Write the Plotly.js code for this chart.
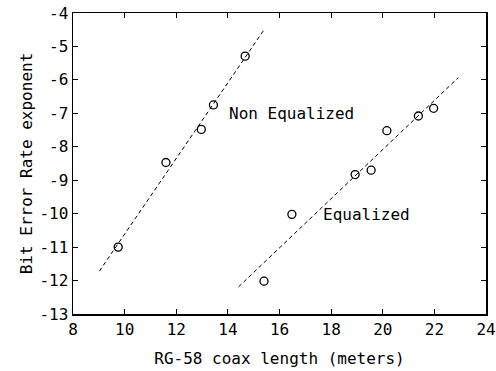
<!DOCTYPE html>
<html>
<head>
<meta charset="utf-8">
<script src="https://cdn.plot.ly/plotly-3.0.1.min.js"></script>
<style>html,body{margin:0;padding:0;background:#fff;}</style>
</head>
<body>
<div id="chart" style="width:496px;height:371px;"></div>
<script>
// Non equalized measurements
const nonEqX = [9.75, 11.6, 12.97, 13.44, 14.67];
const nonEqY = [-11.0, -8.47, -7.48, -6.75, -5.29];
// Non equalized fit line endpoints
const nonEqFitX = [9.02, 15.41];
const nonEqFitY = [-11.72, -4.49];
// Equalized measurements
const eqX = [15.4, 16.48, 18.93, 19.55, 20.16, 21.38, 21.97];
const eqY = [-12.02, -10.02, -8.83, -8.70, -7.52, -7.08, -6.85];
// Equalized fit line endpoints
const eqFitX = [14.41, 22.93];
const eqFitY = [-12.19, -5.93];

const xTicks = [8, 10, 12, 14, 16, 18, 20, 22, 24];
const yTicks = [-13, -12, -11, -10, -9, -8, -7, -6, -5, -4];
const labelNonEq = "Non Equalized";
const labelEq = "Equalized";

const font = "DejaVu Sans Mono, monospace";
const markerStyle = {symbol: 'circle-open', size: 8, color: '#000', line: {width: 1.3, color: '#000'}};
const lineStyle = {color: '#000', width: 1, dash: '4px,3px'};

const traces = [
  {x: nonEqFitX, y: nonEqFitY, mode: 'lines', line: lineStyle, hoverinfo: 'skip'},
  {x: eqFitX, y: eqFitY, mode: 'lines', line: lineStyle, hoverinfo: 'skip'},
  {x: nonEqX, y: nonEqY, mode: 'markers', marker: markerStyle},
  {x: eqX, y: eqY, mode: 'markers', marker: markerStyle}
];

const axisCommon = {
  showline: true, linecolor: '#000', linewidth: 1.5, mirror: 'ticks',
  ticks: 'inside', ticklen: 5, tickwidth: 1.2, tickcolor: '#000',
  showgrid: false, zeroline: false,
  tickfont: {family: font, size: 16, color: '#000'}
};

const layout = {
  width: 496, height: 371,
  margin: {l: 73, r: 10, t: 13, b: 57},
  paper_bgcolor: '#fff', plot_bgcolor: '#fff',
  showlegend: false,
  font: {family: font, size: 16, color: '#000'},
  xaxis: Object.assign({}, axisCommon, {
    range: [8, 24], tickmode: 'array', tickvals: xTicks, ticktext: xTicks.map(String),
    title: {text: 'RG-58 coax length (meters)', font: {family: font, size: 16, color: '#000'}, standoff: 15}
  }),
  yaxis: Object.assign({}, axisCommon, {
    range: [-13, -4], tickmode: 'array', tickvals: yTicks, ticktext: yTicks.map(String),
    title: {text: 'Bit Error Rate exponent', font: {family: font, size: 16, color: '#000'}, standoff: 3}
  }),
  annotations: [
    {x: 13.96, y: -7.0, text: labelNonEq, showarrow: false, xanchor: 'left', yanchor: 'middle', font: {family: font, size: 16, color: '#000'}},
    {x: 17.61, y: -10.03, text: labelEq, showarrow: false, xanchor: 'left', yanchor: 'middle', font: {family: font, size: 16, color: '#000'}}
  ]
};

Plotly.newPlot('chart', traces, layout, {staticPlot: true, displayModeBar: false});
</script>
</body>
</html>
